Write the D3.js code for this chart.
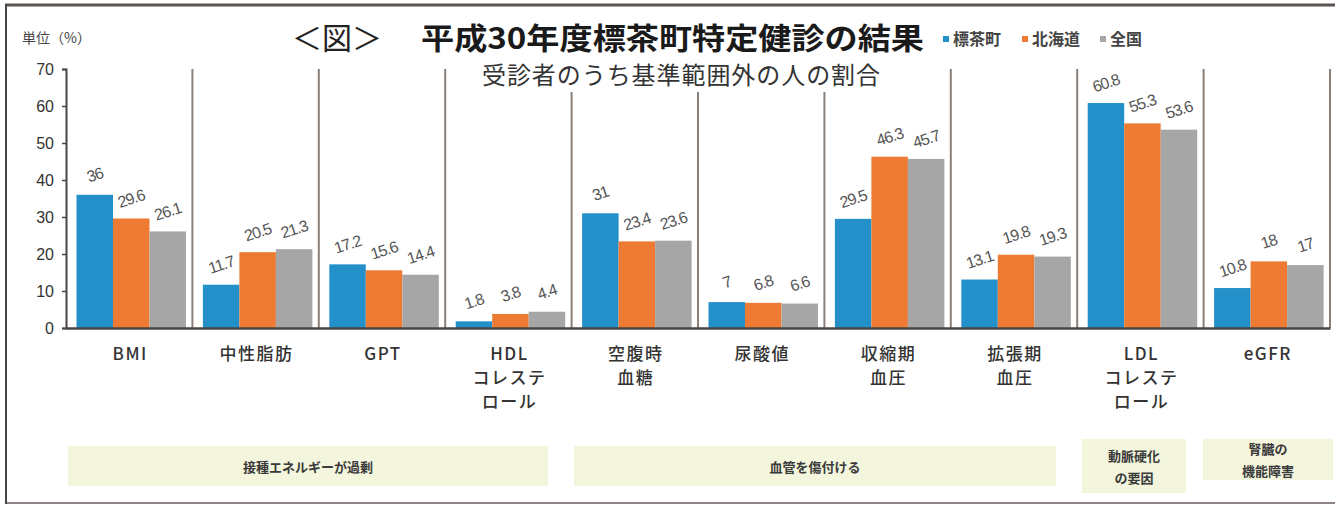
<!DOCTYPE html>
<html><head><meta charset="utf-8">
<script src="https://cdn.jsdelivr.net/npm/d3@7"></script>
<style>
html,body{margin:0;padding:0;background:#fff;}
svg{display:block;font-family:"Noto Sans CJK JP","Noto Sans",sans-serif;}
</style></head>
<body><svg id="chart" width="1335" height="506"></svg>
<script>
const categories = [["BMI"],["中性脂肪"],["GPT"],["HDL","コレステ","ロール"],["空腹時","血糖"],["尿酸値"],["収縮期","血圧"],["拡張期","血圧"],["LDL","コレステ","ロール"],["eGFR"]];
const seriesNames = ["標茶町","北海道","全国"];
const shibecha = [36,11.7,17.2,1.8,31,7,29.5,13.1,60.8,10.8];
const hokkaido = [29.6,20.5,15.6,3.8,23.4,6.8,46.3,19.8,55.3,18];
const zenkoku  = [26.1,21.3,14.4,4.4,23.6,6.6,45.7,19.3,53.6,17];
const yTicks = [0,10,20,30,40,50,60,70];
const groups = [
  {from:0,to:3,lines:["接種エネルギーが過剰"]},
  {from:4,to:7,lines:["血管を傷付ける"]},
  {from:8,to:8,lines:["動脈硬化","の要因"]},
  {from:9,to:9,lines:["腎臓の","機能障害"]}
];
const colors = ["#2490c9","#ee7b33","#a6a6a6"];

const svg = d3.select("#chart");
// frame
svg.append("rect").attr("x",6).attr("y",5).attr("width",1345).attr("height",498)
  .attr("fill","none").attr("stroke","#8b8480").attr("stroke-width",2);
svg.append("line").attr("x1",5).attr("x2",1335).attr("y1",5).attr("y2",5).attr("stroke","#5a5350").attr("stroke-width",3);
svg.append("line").attr("x1",6).attr("x2",6).attr("y1",4).attr("y2",504).attr("stroke","#4a4442").attr("stroke-width",2);

const x = d3.scaleBand().domain(d3.range(categories.length)).range([66,1330]).padding(0);
const xs = d3.scaleBand().domain(d3.range(3)).range([10.5,120]).padding(0);
const y = d3.scaleLinear().domain([0,70]).range([328,69]);

// separators
svg.append("g").selectAll("line").data(d3.range(1,categories.length+1)).join("line")
  .attr("x1",d=>x(d-1)+x.bandwidth()).attr("x2",d=>x(d-1)+x.bandwidth())
  .attr("y1",y(70)).attr("y2",y(0))
  .attr("stroke","#8a807a").attr("stroke-width",2);

// bars
const series = [shibecha,hokkaido,zenkoku];
const data = [];
series.forEach((s,si)=>s.forEach((v,ci)=>data.push({si,ci,v})));
svg.append("g").selectAll("rect").data(data).join("rect")
  .attr("x",d=>x(d.ci)+xs(d.si)).attr("width",xs.bandwidth())
  .attr("y",d=>y(d.v)).attr("height",d=>y(0)-y(d.v))
  .attr("fill",d=>colors[d.si]);

// value labels
svg.append("g").selectAll("text").data(data).join("text")
  .attr("transform",d=>`translate(${x(d.ci)+xs(d.si)+xs.bandwidth()/2},${y(d.v)-20}) rotate(-18)`)
  .attr("text-anchor","middle").attr("dominant-baseline","central")
  .attr("font-family","Liberation Sans, Arial, sans-serif")
  .attr("font-size",16).attr("fill","#555").attr("letter-spacing","-1")
  .text(d=>d.v);

// y axis
const yAxis = d3.axisLeft(y).tickValues(yTicks).tickSize(4).tickPadding(8);
const ya = svg.append("g").attr("transform","translate(66,0)").call(yAxis);
ya.select(".domain").attr("stroke","#4a4442").attr("stroke-width",2);
ya.selectAll(".tick line").attr("stroke","#4a4442").attr("stroke-width",1.5);
ya.selectAll(".tick text").attr("font-size",16).attr("fill","#333")
  .attr("font-family","Liberation Sans, Arial, sans-serif");
// x axis baseline
const xAxis = d3.axisBottom(x).tickSize(0).tickFormat("");
const xa = svg.append("g").attr("transform",`translate(0,${y(0)})`).call(xAxis);
xa.select(".domain").attr("stroke","#4a4442").attr("stroke-width",2.5);

// category labels
const cat = svg.append("g").selectAll("text").data(categories).join("text")
  .attr("x",(d,i)=>x(i)+x.bandwidth()/2+1).attr("y",360)
  .attr("text-anchor","middle").attr("font-size",17).attr("font-weight",500)
  .attr("fill","#333").attr("letter-spacing","1.5");
cat.selectAll("tspan").data(d=>d).join("tspan")
  .attr("x",function(){return this.parentNode.getAttribute("x");})
  .attr("dy",(d,i)=>i===0?0:24).text(d=>d);

// group boxes
const boxes = [
  {x0:68,x1:548,y0:446,y1:486},
  {x0:574,x1:1056,y0:446,y1:486},
  {x0:1082,x1:1186,y0:439,y1:493},
  {x0:1203,x1:1333,y0:439,y1:480}
];
groups.forEach((g,i)=>{
  const b = boxes[i];
  svg.append("rect").attr("x",b.x0).attr("y",b.y0).attr("width",b.x1-b.x0).attr("height",b.y1-b.y0).attr("fill","#f3f5dd");
  const cx = (b.x0+b.x1)/2, cy=(b.y0+b.y1)/2;
  const n = g.lines.length, lh=22;
  g.lines.forEach((l,li)=>{
    svg.append("text").attr("x",cx).attr("y",cy+(li-(n-1)/2)*lh)
      .attr("text-anchor","middle").attr("dominant-baseline","central")
      .attr("font-size",13).attr("font-weight",700).attr("fill","#3a3a3a").text(l);
  });
});

// titles
svg.append("text").attr("x",22).attr("y",43).attr("font-size",14).attr("fill","#444").text("単位（%）");
svg.append("text").attr("x",292).attr("y",49).attr("font-size",30).attr("fill","#222").text("＜図＞");
svg.append("text").attr("x",421).attr("y",49).attr("font-size",30).attr("font-weight",700).attr("fill","#1a1a1a")
  .attr("textLength",503).attr("lengthAdjust","spacingAndGlyphs").text("平成30年度標茶町特定健診の結果");
svg.append("rect").attr("x",476).attr("y",60).attr("width",410).attr("height",32).attr("fill","#fff");
svg.append("text").attr("x",681).attr("y",84).attr("text-anchor","middle").attr("font-size",24).attr("fill","#333")
  .attr("textLength",398).text("受診者のうち基準範囲外の人の割合");

// legend
const legX = [943,1022,1100];
seriesNames.forEach((n,i)=>{
  svg.append("rect").attr("x",legX[i]).attr("y",36).attr("width",6).attr("height",6).attr("fill",colors[i]);
  svg.append("text").attr("x",legX[i]+10).attr("y",45).attr("font-size",16).attr("font-weight",700).attr("fill","#444").text(n);
});
</script></body></html>
